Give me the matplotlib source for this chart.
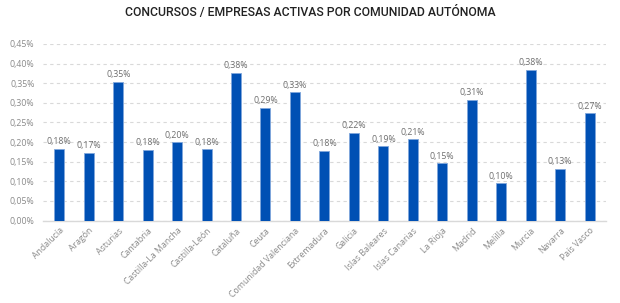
import matplotlib
matplotlib.use("Agg")
import matplotlib.pyplot as plt
from matplotlib.ticker import FuncFormatter

comunidades = [
    "Andalucía", "Aragón", "Asturias", "Cantabria", "Castilla-La Mancha",
    "Castilla-León", "Cataluña", "Ceuta", "Comunidad Valenciana", "Extremadura",
    "Galicia", "Islas Baleares", "Islas Canarias", "La Rioja", "Madrid",
    "Melilla", "Murcia", "Navarra", "País Vasco",
]
ratio = [
    0.183, 0.173, 0.354, 0.181, 0.199,
    0.182, 0.377, 0.288, 0.327, 0.178,
    0.224, 0.189, 0.207, 0.147, 0.308,
    0.096, 0.384, 0.132, 0.274,
]
yticks = [0.00, 0.05, 0.10, 0.15, 0.20, 0.25, 0.30, 0.35, 0.40, 0.45]

grey = "#8a8a8a"
blue = "#0050b4"

plt.rcParams["font.family"] = ["Open Sans", "DejaVu Sans"]

fig = plt.figure(figsize=(6.2, 3.03), dpi=100)
ax = fig.add_axes([0.069, 0.272, 0.908, 0.583])

x = range(len(comunidades))
bars = ax.bar(x, ratio, width=0.34, color=blue, edgecolor="#7fa6dc",
              linewidth=0.6, zorder=3)

for xi, v in zip(x, ratio):
    ax.text(xi, v + 0.006, f"{v:.2f}%".replace(".", ","), ha="center",
            va="bottom", fontsize=6.3, color="#6e6e6e")

ax.set_xlim(-0.56, len(comunidades) - 0.45)
ax.set_ylim(0, 0.45)
ax.set_yticks(yticks)
ax.yaxis.set_major_formatter(FuncFormatter(lambda v, p: f"{v:.2f}%".replace(".", ",")))
ax.grid(axis="y", linestyle=(0, (3, 3)), color="#d9d9d9", linewidth=0.8, zorder=0)

ax.set_xticks(list(x))
ax.set_xticklabels(comunidades, rotation=45, ha="right", rotation_mode="anchor",
                   fontsize=6.3, color=grey)
ax.tick_params(axis="y", labelsize=6.3, labelcolor=grey, length=0, pad=6)
ax.tick_params(axis="x", length=0, pad=4)

for s in ["top", "right", "left"]:
    ax.spines[s].set_visible(False)
ax.spines["bottom"].set_color("#d9d9d9")
ax.spines["bottom"].set_linewidth(1)

fig.text(0.5, 0.958, "CONCURSOS / EMPRESAS ACTIVAS POR COMUNIDAD AUTÓNOMA",
         ha="center", va="center", fontsize=8.8, color="#222222",
         family=["Roboto", "DejaVu Sans"], fontweight="medium")

fig.savefig("out.png", dpi=100)
